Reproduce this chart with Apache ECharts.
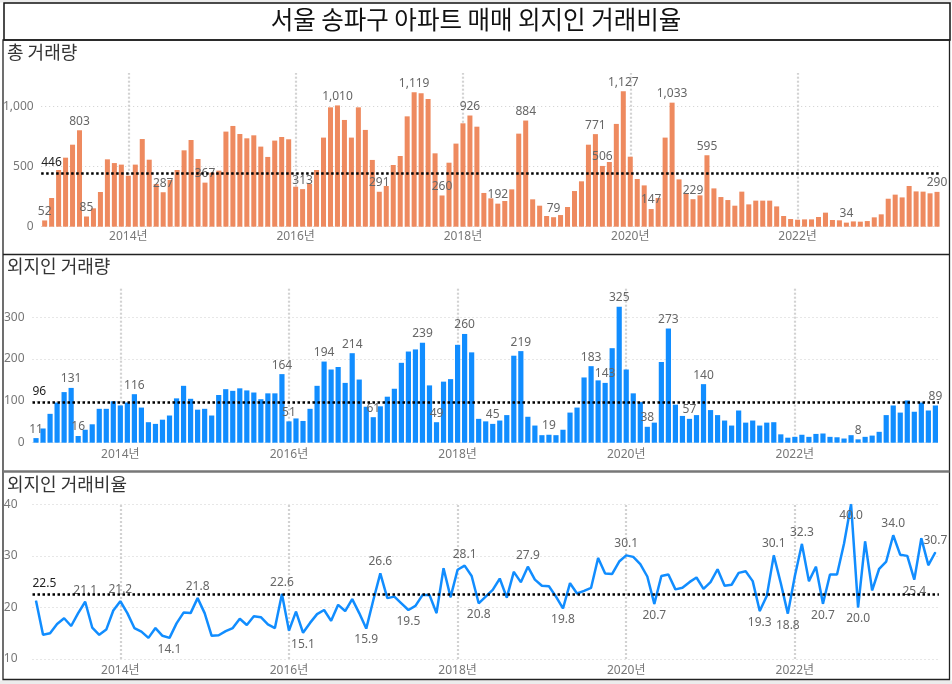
<!DOCTYPE html>
<html>
<head>
<meta charset="utf-8">
<script src="https://cdn.jsdelivr.net/npm/echarts@6/dist/echarts.min.js"></script>
<style>
html,body{margin:0;padding:0;background:#fff;}
#c{width:952px;height:684px;}
</style>
</head>
<body>
<div id="c"></div>
<script>
// ---- categories: months 2013-01 .. 2023-09 ----
const startYear = 2013, endYear = 2023, endMonth = 9;
const months = [];
for (let y = startYear; y <= endYear; y++) {
  for (let m = 1; m <= 12; m++) {
    if (y === endYear && m > endMonth) break;
    months.push(y + '-' + String(m).padStart(2, '0'));
  }
}
const yearLines = ['2014-01', '2016-01', '2018-01', '2020-01', '2022-01'];

// ---- 총 거래량 ----
const totalDeals = [
  52, 239, 472, 575, 683, 803, 85, 153, 289, 561, 530, 517,
  425, 517, 730, 558, 356, 287, 389, 472, 636, 722, 564, 367,
  450, 467, 792, 839, 772, 736, 761, 667, 581, 717, 747, 728,
  333, 313, 356, 472, 742, 994, 1010, 889, 742, 994, 806, 556,
  291, 339, 514, 589, 919, 1119, 1111, 1064, 611, 260, 533, 692,
  861, 926, 833, 281, 236, 192, 214, 311, 775, 884, 228, 175,
  89, 79, 97, 164, 297, 378, 683, 771, 506, 539, 856, 1127,
  583, 397, 344, 147, 239, 742, 1033, 394, 275, 229, 261, 595,
  319, 247, 222, 175, 292, 186, 217, 217, 217, 169, 89, 64,
  58, 61, 61, 81, 117, 56, 53, 34, 44, 42, 47, 78,
  103, 233, 267, 244, 339, 294, 292, 278, 290
];
const totalAvg = 446;
const totalLabelIdx = [0,5,6,17,23,37,42,48,53,57,61,65,69,73,79,80,83,87,90,93,95,115,128];

// ---- 외지인 거래량 ----
const foreignDeals = [
  11, 34, 69, 96, 121, 131, 16, 31, 44, 81, 81, 99,
  89, 96, 116, 84, 49, 45, 55, 65, 106, 136, 105, 79,
  81, 65, 114, 128, 124, 130, 125, 120, 104, 118, 118, 164,
  51, 58, 52, 81, 136, 194, 175, 181, 143, 214, 151, 86,
  61, 87, 110, 129, 191, 218, 223, 239, 137, 49, 146, 152,
  234, 260, 216, 57, 51, 45, 53, 66, 208, 219, 62, 41,
  18, 19, 18, 31, 72, 84, 156, 183, 149, 143, 226, 325,
  175, 118, 97, 38, 48, 193, 273, 91, 64, 57, 66, 140,
  78, 66, 53, 41, 77, 48, 53, 41, 48, 49, 20, 12,
  14, 19, 14, 21, 22, 14, 13, 10, 18, 8, 14, 17,
  26, 66, 89, 72, 101, 74, 96, 77, 89
];
const foreignAvg = 96;
const foreignLabelIdx = [0,5,6,14,35,36,41,45,48,55,57,61,65,69,73,79,81,83,87,90,93,95,117,128];

// ---- 외지인 거래비율 (%) ----
const foreignRatio = [
  21.3, 14.7, 15.0, 16.8, 17.9, 16.4, 18.9, 21.1, 16.1, 14.7, 15.7, 19.4,
  21.2, 18.9, 16.0, 15.3, 14.1, 16.0, 14.5, 14.1, 16.9, 19.0, 18.9, 21.8,
  18.9, 14.5, 14.6, 15.4, 16.0, 17.8, 16.6, 18.3, 18.1, 16.7, 16.0, 22.6,
  15.5, 19.2, 15.1, 17.0, 18.7, 19.5, 17.4, 20.5, 19.3, 21.6, 18.9, 15.9,
  21.4, 26.6, 21.8, 22.1, 20.8, 19.5, 20.3, 22.4, 22.4, 18.9, 27.6, 22.0,
  27.3, 28.1, 26.1, 20.8, 22.1, 23.4, 25.6, 21.9, 26.9, 24.9, 27.9, 25.4,
  24.2, 24.1, 22.1, 19.8, 24.7, 22.7, 23.2, 23.8, 29.6, 26.6, 26.5, 28.9,
  30.1, 29.8, 28.4, 26.0, 20.7, 26.1, 26.4, 23.5, 23.8, 24.9, 25.8, 23.6,
  24.9, 27.4, 24.2, 24.4, 26.7, 27.0, 25.1, 19.3, 22.2, 30.1, 24.7, 18.8,
  26.1, 32.3, 25.1, 27.9, 20.7, 26.4, 26.4, 32.4, 40.0, 20.0, 32.8, 23.3,
  27.5, 28.9, 34.0, 30.2, 30.0, 25.4, 33.4, 28.2, 30.7
];
const ratioAvg = 22.5;
const ratioTopLabelIdx = [7,12,23,35,49,61,70,84,105,109,122,128];
const ratioBottomLabelIdx = [19,38,47,53,63,75,88,103,107,112,116,117,125];

// ---- texts ----
const mainTitle = '서울 송파구 아파트 매매 외지인 거래비율';
const panelTitles = ['총 거래량', '외지인 거래량', '외지인 거래비율'];

// ---- styling ----
const ORANGE = '#EE8A5F';
const BLUE = '#118DFF';
const FONT = '"Noto Sans", "Noto Sans CJK KR", sans-serif';
const KFONT = '"Noto Sans CJK KR", "Noto Sans", sans-serif';
const labelColor = '#666';

const grids = [
  {left: 40.5, right: 11.5, top: 73, height: 153.7},
  {left: 32.5, right: 13.1, top: 286.7, height: 156},
  {left: 32.5, right: 13.1, top: 504.3, height: 154.7}
];

function xAxisFor(i, margin) {
  return {
    type: 'category', gridIndex: i, data: months,
    axisLine: {show: false}, axisTick: {show: false},
    splitLine: {show: false},
    axisLabel: {
      interval: (idx, val) => val.endsWith('-01') && parseInt(val, 10) % 2 === 0,
      formatter: v => v.slice(0, 4) + '년',
      color: '#777', fontSize: 12, fontFamily: FONT, margin: margin
    }
  };
}
function yAxisFor(i, min, max, interval, margin, fmt) {
  return {
    type: 'value', gridIndex: i, min: min, max: max, interval: interval,
    axisLine: {show: false}, axisTick: {show: false},
    axisLabel: {color: '#777', fontSize: 12, fontFamily: FONT, margin: margin,
      showMaxLabel: max % interval === 0, formatter: fmt},
    splitLine: {show: true, showMaxLine: max % interval === 0,
      lineStyle: {color: '#cfcfcf', type: [1, 3], width: 1}}
  };
}
function yearLineSeries(i) {
  return {
    type: 'line', xAxisIndex: i, yAxisIndex: i, data: [], z: 0, silent: true,
    markLine: {
      silent: true, symbol: 'none', animation: false, z: 0,
      label: {show: false},
      lineStyle: {color: '#d2d2d2', type: [2, 2], width: 2.2},
      data: yearLines.map(c => ({xAxis: c}))
    }
  };
}
function avgMark(v, text) {
  return {
    silent: true, symbol: 'none', animation: false, z: 5,
    data: [{
      yAxis: v,
      lineStyle: {color: '#000', type: [2.5, 2.5], width: 2.5},
      label: {show: true, position: 'insideStartTop', formatter: text,
        color: '#222', fontSize: 12, fontFamily: FONT, distance: [0, 5]}
    }]
  };
}
function barData(vals, idxs) {
  return vals.map((v, i) => idxs.includes(i) ? {value: v, label: {show: true}} : v);
}

const fmtThousands = v => Number(v).toLocaleString('en-US');

const ratioData = foreignRatio.map((v, i) => {
  if (ratioTopLabelIdx.includes(i)) return {value: v, label: {show: true, position: 'top'}};
  if (ratioBottomLabelIdx.includes(i)) return {value: v, label: {show: true, position: 'bottom'}};
  return v;
});

const chart = echarts.init(document.getElementById('c'), null, {renderer: 'canvas'});
chart.setOption({
  animation: false,
  backgroundColor: '#fff',
  graphic: [
    {type: 'rect', shape: {x: 0, y: 0, width: 952, height: 2.5}, style: {fill: '#ececec'}, silent: true},
    {type: 'rect', shape: {x: 0, y: 680.5, width: 952, height: 4}, style: {fill: '#ececec'}, silent: true},
    {type: 'rect', shape: {x: 4, y: 3, width: 946, height: 37}, style: {fill: 'none', stroke: '#111', lineWidth: 1.5}, silent: true},
    {type: 'rect', shape: {x: 3, y: 40, width: 946.5, height: 639.5}, style: {fill: 'none', stroke: '#222', lineWidth: 1.3}, silent: true},
    {type: 'line', shape: {x1: 3, y1: 254.5, x2: 949.5, y2: 254.5}, style: {stroke: '#222', lineWidth: 1.3}, silent: true},
    {type: 'line', shape: {x1: 3, y1: 471.5, x2: 949.5, y2: 471.5}, style: {stroke: '#777', lineWidth: 2.5}, silent: true}
  ],
  title: [
    {text: mainTitle, left: 'center', top: 7, padding: 0,
      textStyle: {fontFamily: KFONT, fontSize: 24.5, fontWeight: 'normal', color: '#111'}},
    {text: panelTitles[0], left: 7, top: 43, padding: 0,
      textStyle: {fontFamily: KFONT, fontSize: 18, fontWeight: 'normal', color: '#333'}},
    {text: panelTitles[1], left: 7, top: 257, padding: 0,
      textStyle: {fontFamily: KFONT, fontSize: 18, fontWeight: 'normal', color: '#333'}},
    {text: panelTitles[2], left: 7, top: 475, padding: 0,
      textStyle: {fontFamily: KFONT, fontSize: 18, fontWeight: 'normal', color: '#333'}}
  ],
  grid: grids,
  xAxis: [xAxisFor(0, 4), xAxisFor(1, 6), xAxisFor(2, 6)],
  yAxis: [
    yAxisFor(0, 0, 1280, 500, 7.5, fmtThousands),
    yAxisFor(1, 0, 373, 100, 8, null),
    yAxisFor(2, 10, 40, 10, 15, null)
  ],
  series: [
    yearLineSeries(0), yearLineSeries(1), yearLineSeries(2),
    {
      type: 'bar', xAxisIndex: 0, yAxisIndex: 0, z: 2,
      data: barData(totalDeals, totalLabelIdx),
      barCategoryGap: '28%',
      itemStyle: {color: ORANGE},
      label: {show: false, position: 'top', distance: 3, color: labelColor, fontSize: 12,
        fontFamily: FONT, formatter: p => fmtThousands(p.value)},
      markLine: avgMark(totalAvg, String(totalAvg))
    },
    {
      type: 'bar', xAxisIndex: 1, yAxisIndex: 1, z: 2,
      data: barData(foreignDeals, foreignLabelIdx),
      barCategoryGap: '26%',
      itemStyle: {color: BLUE},
      label: {show: false, position: 'top', distance: 3, color: labelColor, fontSize: 12,
        fontFamily: FONT},
      markLine: avgMark(foreignAvg, String(foreignAvg))
    },
    {
      type: 'line', xAxisIndex: 2, yAxisIndex: 2, z: 2,
      data: ratioData,
      showSymbol: true, symbol: 'circle', symbolSize: 1,
      itemStyle: {color: BLUE},
      lineStyle: {color: BLUE, width: 2.5},
      label: {show: false, distance: 5, color: labelColor, fontSize: 12, fontFamily: FONT,
        formatter: p => Number(p.value).toFixed(1)},
      markLine: avgMark(ratioAvg, ratioAvg.toFixed(1))
    }
  ]
});
</script>
</body>
</html>
